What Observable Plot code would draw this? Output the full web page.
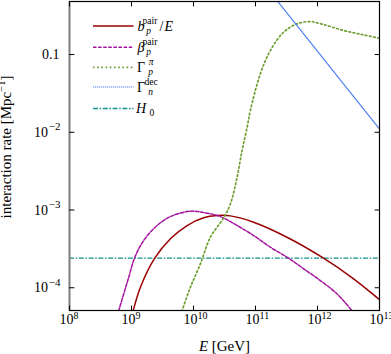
<!DOCTYPE html>
<html><head><meta charset="utf-8">
<script src="https://cdn.jsdelivr.net/npm/d3@7"></script>
<script src="https://cdn.jsdelivr.net/npm/@observablehq/plot@0.6"></script>
<style>
body{margin:0;background:#fff;overflow:hidden}
#chart{width:391px;height:354px}
#chart svg, #chart svg text, #chart svg tspan { font-family: "Liberation Serif", "Times New Roman", serif !important; }
</style>
</head><body><div id="chart"></div>
<script>
// ---- data ----
const pairLossE    = [1.0e9, 1.064e9, 1.393e9, 2.371e9, 4.246e9, 7.89e9, 1.459e10, 2.399e10, 3.936e10, 9.33e10, 3.22e11, 1.253e12, 3.82e12, 9.66e12, 1.0e13];
const pairLossRate = [4.27e-5, 5.09e-5, 1.016e-4, 2.40e-4, 4.27e-4, 6.32e-4, 7.94e-4, 8.49e-4, 8.41e-4, 6.97e-4, 4.47e-4, 2.40e-4, 1.303e-4, 7.21e-5, 7.06e-5];

const betaE    = [5.62e8, 6.24e8, 7.50e8, 9.04e8, 1.117e9, 1.574e9, 2.588e9, 4.246e9, 8.91e9, 1.656e10, 2.71e10, 5.05e10, 9.33e10, 1.734e11, 3.42e11, 5.97e11, 1.109e12, 2.06e12, 3.60e12, 4.47e12];
const betaRate = [3.7e-5, 5.09e-5, 8.36e-5, 1.368e-4, 2.40e-4, 4.06e-4, 6.32e-4, 8.24e-4, 9.66e-4, 9.10e-4, 8.24e-4, 6.32e-4, 4.70e-4, 3.33e-4, 2.40e-4, 1.754e-4, 1.239e-4, 8.36e-5, 5.09e-5, 4.2e-5];

const pionE    = [6.17e9, 6.55e9, 8.91e9, 1.291e10, 1.871e10, 3.07e10, 3.94e10, 5.05e10, 6.07e10, 7.31e10, 8.26e10, 1.197e11, 1.734e11, 2.84e11, 4.68e11, 7.66e11, 1.253e12, 2.64e12, 5.53e12, 1.0e13];
const pionRate = [4.4e-5, 5.09e-5, 1.016e-4, 2.03e-4, 4.47e-4, 7.94e-4, 1.202e-3, 2.64e-3, 5.82e-3, 1.151e-2, 1.905e-2, 5.65e-2, 0.1125, 0.1936, 0.248, 0.2655, 0.243, 0.2037, 0.179, 0.162];

const decayE    = [1.585e11, 1.0e13];
const decayRate = [0.695, 0.01102];

const h0Rate = 2.4e-4;

const xTicks = [1e8, 1e9, 1e10, 1e11, 1e12, 1e13];
const xTickExp = ["8", "9", "10", "11", "12", "13"];
const yTicks = [0.1, 1e-2, 1e-3, 1e-4];
const yTicksDecimal = [0.1];
const yTicksDecimalLabel = ["0.1"];
const yTicksPow = [1e-2, 1e-3, 1e-4];
const yTickExp = ["\u22122", "\u22123", "\u22124"];

// legend label parts: base, sup, sub, trailing
const legendBase = ["b", "\u03b2", "\u0393", "\u0393", "H"];
const legendSup  = ["pair", "pair", "\u03c0", "dec", ""];
const legendSub  = ["p", "p", "p", "n", "0"];
const legendTail = ["/E", "", "", "", ""];

// ---- styles ----
const FONT = "Liberation Serif, Times New Roman, serif";
const styles = [
  {color: "#990000", width: 1.5, dash: null},
  {color: "#a3119d", width: 1.5, dash: "3.5,1.6"},
  {color: "#6b9e2e", width: 1.7, dash: "1.6,2.6"},
  {color: "#4a7cf0", width: 1.2, dash: "1.2,0.8"},
  {color: "#119090", width: 1.3, dash: "5,1.6,1.6,1.6"}
];
const baseItalic = [true, true, false, false, true];
const supItalic = [false, false, true, false, false];
const subItalic = [true, true, true, true, false];

const series = [
  {E: pairLossE, R: pairLossRate},
  {E: betaE, R: betaRate},
  {E: pionE, R: pionRate},
  {E: decayE, R: decayRate}
];

const tickShape = {draw(ctx, l) { ctx.moveTo(0, 0); ctx.lineTo(0, -l); }};
const tickOpts = {length: 4.5, anchor: "start", shape: tickShape, stroke: "black", strokeWidth: 1, fill: "none"};

const lineMarks = series.map((s, i) => Plot.line(s.E.map((e, j) => [e, s.R[j]]), {
  x: d => d[0], y: d => d[1], stroke: styles[i].color, strokeWidth: styles[i].width,
  strokeDasharray: styles[i].dash, curve: i === 3 ? "linear" : "catmull-rom", clip: true
}));

const chart = Plot.plot({
  width: 391, height: 354,
  marginLeft: 69, marginRight: 12, marginTop: 1, marginBottom: 44,
  style: {fontFamily: FONT, background: "white", color: "black"},
  x: {type: "log", domain: [1e8, 1e13], axis: null},
  y: {type: "log", domain: [5.1e-5, 0.481], axis: null},
  marks: [
    Plot.ruleY([h0Rate], {stroke: styles[4].color, strokeWidth: styles[4].width, strokeDasharray: styles[4].dash}),
    ...lineMarks,
    Plot.frame({stroke: "black", strokeWidth: 1.2}),
    Plot.ruleX([1e8], {stroke: "#808080", strokeWidth: 1.8}),
    Plot.vector(xTicks, {x: d => d, frameAnchor: "bottom", rotate: 0, ...tickOpts}),
    Plot.vector(xTicks, {x: d => d, frameAnchor: "top", rotate: 180, ...tickOpts}),
    Plot.vector(yTicks, {y: d => d, frameAnchor: "left", rotate: 90, ...tickOpts}),
    Plot.vector(yTicks, {y: d => d, frameAnchor: "right", rotate: -90, ...tickOpts}),
    Plot.text(xTicks, {x: d => d, frameAnchor: "bottom", text: () => "10", textAnchor: "end", dx: 4, dy: 13, fontSize: 14}),
    Plot.text(xTicks, {x: d => d, frameAnchor: "bottom", text: xTickExp, textAnchor: "start", dx: 4, dy: 8, fontSize: 10}),
    Plot.text(yTicksDecimal, {y: d => d, frameAnchor: "left", text: yTicksDecimalLabel, textAnchor: "end", dx: -10, fontSize: 14}),
    Plot.text(yTicksPow, {y: d => d, frameAnchor: "left", text: () => "10", textAnchor: "end", dx: -21.5, fontSize: 14}),
    Plot.text(yTicksPow, {y: d => d, frameAnchor: "left", text: yTickExp, textAnchor: "end", dx: -9, dy: -5.5, fontSize: 11})
  ]
});
document.getElementById("chart").appendChild(chart);

const svg = d3.select(chart);
// axis titles
const yl = svg.append("text").attr("transform", "translate(11,147) rotate(-90)")
  .attr("text-anchor", "middle").attr("font-size", 15).attr("fill", "black");
yl.append("tspan").text("interaction rate [Mpc");
yl.append("tspan").attr("font-size", 10.5).attr("dy", -6).text("\u22121");
yl.append("tspan").attr("dy", 6).text("]");

const xl = svg.append("text").attr("x", 224.5).attr("y", 350.5)
  .attr("text-anchor", "middle").attr("font-size", 15).attr("fill", "black");
xl.append("tspan").attr("font-style", "italic").text("E");
xl.append("tspan").text(" [GeV]");

// legend
const legendY = [26, 47.3, 67.3, 87, 108.5];
const lg = svg.append("g").attr("fill", "black");
legendBase.forEach((b, i) => {
  const y = legendY[i], st = styles[i];
  lg.append("line").attr("x1", 93).attr("x2", 133.5).attr("y1", y).attr("y2", y)
    .attr("stroke", st.color).attr("stroke-width", st.width).attr("stroke-dasharray", st.dash);
  let x = 141;
  const base = lg.append("text").attr("x", x).attr("y", y + 4.5).attr("font-size", 14)
    .attr("font-style", baseItalic[i] ? "italic" : "normal").text(b);
  x += base.node().getComputedTextLength() + 1.5;
  let w = 0;
  if (legendSup[i]) {
    const s = lg.append("text").attr("x", x + 0.5).attr("y", y - 2.5).attr("font-size", 9.5)
      .attr("font-style", supItalic[i] ? "italic" : "normal").text(legendSup[i]);
    w = Math.max(w, s.node().getComputedTextLength() + 0.5);
  }
  if (legendSub[i]) {
    const s = lg.append("text").attr("x", x - (baseItalic[i] ? 0.8 : 0)).attr("y", y + 7.5).attr("font-size", 9.5)
      .attr("font-style", subItalic[i] ? "italic" : "normal").text(legendSub[i]);
    w = Math.max(w, s.node().getComputedTextLength());
  }
  x += w + 1.5;
  if (legendTail[i]) {
    const t = lg.append("text").attr("x", x).attr("y", y + 4.5).attr("font-size", 14);
    t.append("tspan").text(legendTail[i][0]);
    t.append("tspan").attr("font-style", "italic").attr("dx", 1).text(legendTail[i].slice(1));
  }
});
</script>
</body></html>
